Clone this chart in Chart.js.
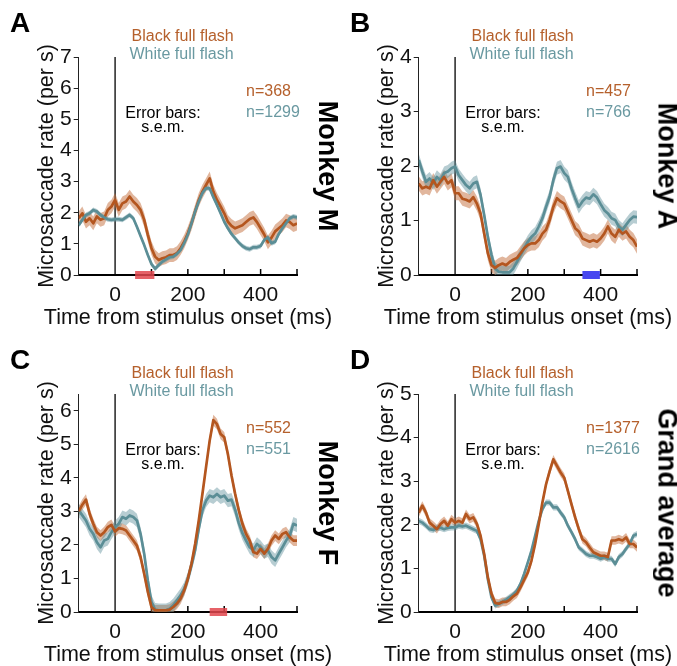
<!DOCTYPE html>
<html><head><meta charset="utf-8">
<script src="https://cdn.jsdelivr.net/npm/chart.js@4.4.1/dist/chart.umd.min.js"></script>
<style>
html,body{margin:0;padding:0;background:#fff;overflow:hidden}
#fig{position:relative;width:677px;height:666px;font-family:Arial,'Liberation Sans',sans-serif}
#fig canvas{position:absolute}
.t{position:absolute;white-space:nowrap;line-height:1}
</style></head><body><div id="fig"></div>
<script>
// ---- data ----
const times = [-100,-90,-80,-70,-60,-50,-40,-30,-20,-10,0,10,20,30,40,50,60,70,80,90,100,110,120,130,140,150,160,170,180,190,200,210,220,230,240,250,260,270,280,290,300,310,320,330,340,350,360,370,380,390,400,410,420,430,440,450,460,470,480,490,500];
const xTickLabels = [0,200,400];
const xTickMarks = [100,200,300,400,500];

const A_black = [1.82,1.98,1.71,1.82,1.66,1.88,1.77,1.82,2.09,2.20, 2.41,2.09,2.30,2.36,2.52,2.36,2.25,2.09,1.77,1.29, 0.86,0.59,0.48,0.54,0.57,0.64,0.64,0.70,0.86,1.07, 1.34,1.66,2.04,2.41,2.68,2.89,3.10,2.68,2.41,2.20, 1.98,1.71,1.58,1.50,1.55,1.60,1.70,1.80,1.85,1.70, 1.50,1.30,1.05,1.20,1.40,1.50,1.60,1.75,1.70,1.60, 1.65];
const A_white = [1.60,1.77,1.93,1.98,2.09,2.04,1.93,1.85,1.79,1.77, 1.79,1.79,1.77,1.85,1.93,1.82,1.55,1.25,0.96,0.64, 0.35,0.20,0.32,0.43,0.50,0.57,0.59,0.68,0.80,1.02, 1.29,1.66,2.04,2.36,2.63,2.79,2.78,2.50,2.25,1.98, 1.71,1.50,1.32,1.18,1.04,0.93,0.86,0.83,0.89,0.89, 0.93,1.13,1.21,1.02,1.07,1.32,1.50,1.66,1.82,1.88, 1.85];
const B_black = [1.68,1.59,1.62,1.59,1.74,1.62,1.71,1.80,1.68,1.74, 1.50,1.50,1.40,1.38,1.35,1.43,1.31,1.13,0.76,0.40, 0.18,0.13,0.18,0.21,0.18,0.24,0.28,0.31,0.40,0.49, 0.55,0.58,0.58,0.64,0.76,0.83,1.01,1.25,1.41,1.35, 1.31,1.16,1.01,0.86,0.80,0.67,0.64,0.61,0.64,0.61, 0.67,0.76,0.89,0.76,0.70,0.83,0.76,0.80,0.70,0.64, 0.52];
const B_white = [2.11,1.90,1.71,1.77,1.68,1.80,1.74,1.87,1.90,1.96, 1.99,1.83,1.74,1.65,1.59,1.68,1.71,1.47,1.10,0.70, 0.37,0.12,0.06,0.05,0.05,0.05,0.12,0.24,0.37,0.49, 0.61,0.70,0.76,0.89,1.04,1.25,1.44,1.74,1.96,1.99, 1.87,1.80,1.59,1.41,1.25,1.35,1.42,1.40,1.48,1.42, 1.30,1.19,1.13,1.04,1.01,0.89,0.83,0.92,1.01,1.07, 1.06];
const C_black = [3.00,3.20,3.35,2.93,2.63,2.38,2.28,2.38,2.53,2.60, 2.40,2.50,2.48,2.43,2.28,2.13,1.98,1.64,1.14,0.60, 0.15,0.05,0.05,0.05,0.05,0.07,0.15,0.25,0.40,0.64, 0.99,1.44,2.03,2.73,3.52,4.32,5.11,5.72,5.60,5.31, 5.21,4.71,4.07,3.52,3.03,2.63,2.33,2.13,1.79,1.74, 1.88,1.74,1.88,2.13,2.28,2.18,2.33,2.38,2.23,2.13, 2.13];
const C_white = [3.03,2.88,2.73,2.48,2.33,2.08,1.93,2.13,2.18,2.38, 2.53,2.63,2.83,2.78,2.88,2.83,2.73,2.33,1.74,0.94, 0.30,0.07,0.05,0.05,0.05,0.10,0.20,0.35,0.50,0.69, 0.99,1.39,1.84,2.48,3.03,3.32,3.47,3.42,3.52,3.42, 3.47,3.32,3.35,3.05,2.65,2.35,2.13,1.93,1.84,2.03, 1.93,1.79,1.84,1.64,1.54,1.74,1.93,2.13,2.28,2.63, 2.58];
const D_black = [2.28,2.44,2.28,2.05,1.98,1.90,2.02,2.09,1.98,2.13, 2.05,2.09,2.05,2.25,2.13,2.17,2.02,1.75,1.33,0.80, 0.42,0.21,0.19,0.23,0.23,0.28,0.36,0.42,0.57,0.74, 0.91,1.18,1.56,2.02,2.51,2.93,3.23,3.50,3.35,3.20, 3.08,2.78,2.47,2.17,1.90,1.67,1.60,1.48,1.37,1.33, 1.29,1.29,1.26,1.64,1.64,1.67,1.64,1.71,1.56,1.56, 1.48];
const D_white = [2.09,2.05,1.98,1.90,1.88,1.93,1.93,1.90,1.93,1.94, 1.94,1.98,1.96,1.98,1.94,1.90,1.86,1.67,1.29,0.76, 0.34,0.15,0.19,0.23,0.28,0.34,0.40,0.49,0.65,0.88, 1.14,1.41,1.75,2.09,2.36,2.51,2.51,2.40,2.40,2.28, 2.17,1.98,1.83,1.67,1.48,1.41,1.33,1.29,1.29,1.26, 1.22,1.26,1.22,1.22,1.10,1.26,1.33,1.45,1.56,1.75, 1.79];

// s.e.m. half-widths
const A_sem = [0.22, 0.08];
const B_sem = [0.13, 0.12];
const C_sem = [0.16, 0.20];
const D_sem = [0.10, 0.07];

// significance bars [start, end] in ms
const A_sig = [55, 108];
const B_sig = [350, 398];
const C_sig = [260, 308];
const D_sig = null;

const yMax = [7, 4, 6.5, 5];
const nBlack = ['n=368', 'n=457', 'n=552', 'n=1377'];
const nWhite = ['n=1299', 'n=766', 'n=551', 'n=2616'];
const panelLetters = ['A', 'B', 'C', 'D'];
const sideLabels = ['Monkey M', 'Monkey A', 'Monkey F', 'Grand average'];
const legendLabels = ['Black full flash', 'White full flash'];
const xTitle = 'Time from stimulus onset (ms)';
const yTitle = 'Microsaccade rate (per s)';

// ---- styles ----
const BROWN = '#b4561f', TEAL = '#5b8e96';
const BROWN_BAND = 'rgba(196,110,60,0.5)', TEAL_BAND = 'rgba(95,145,155,0.45)';
const BROWN_TXT = '#b5602c', TEAL_TXT = '#6a99a1';
const SIG_RED = 'rgba(226,70,78,0.85)', SIG_BLUE = '#4848f0';
const FONT = "Arial, 'Liberation Sans', sans-serif";
Chart.defaults.font.family = FONT;

const fig = document.getElementById('fig');
const W = 338, H = 333;
const origins = [[0,0],[340,0],[0,337],[340,337]];

function txt(str, x, base, size, color, bold, center) {
  const d = document.createElement('div');
  d.className = 't'; d.textContent = str;
  d.style.fontSize = size + 'px'; d.style.color = color;
  d.style.top = (base - 0.8465 * size) + 'px';
  d.style.left = x + 'px';
  if (center) d.style.transform = 'translateX(-50%)';
  if (bold) d.style.fontWeight = 'bold';
  fig.appendChild(d);
}
function rot(str, cx, cy, size) {
  const d = document.createElement('div');
  d.className = 't'; d.textContent = str;
  d.style.fontSize = size + 'px'; d.style.color = '#000'; d.style.fontWeight = 'bold';
  d.style.left = cx + 'px'; d.style.top = cy + 'px';
  d.style.transform = 'translate(-50%,-50%) rotate(90deg)';
  fig.appendChild(d);
}

const extras = {
  id: 'extras',
  beforeDatasetsDraw(chart) {
    const {ctx, chartArea: a, scales: {x}} = chart;
    ctx.save();
    ctx.strokeStyle = '#000';
    ctx.lineWidth = 1.3;
    const p0 = x.getPixelForValue(0);
    ctx.beginPath(); ctx.moveTo(p0, a.top); ctx.lineTo(p0, a.bottom); ctx.stroke();
    ctx.lineWidth = 1.5;
    for (const v of xTickMarks) {
      const px = x.getPixelForValue(v);
      ctx.beginPath(); ctx.moveTo(px, a.bottom); ctx.lineTo(px, a.bottom - 6); ctx.stroke();
    }
    ctx.restore();
  }
};

function pts(vals, off) { return times.map((t, i) => ({x: t, y: vals[i] + off})); }

function makePanel(i, black, white, sem, sig, whiteOnTop) {
  const [ox, oy] = origins[i];
  const cv = document.createElement('canvas');
  cv.width = W; cv.height = H;
  cv.style.left = ox + 'px'; cv.style.top = oy + 'px';
  cv.style.width = W + 'px'; cv.style.height = H + 'px';
  fig.appendChild(cv);

  const band = (vals, s, color, order) => ([
    {data: pts(vals, s), borderWidth: 0, pointRadius: 0, backgroundColor: color, fill: '+1', order: order},
    {data: pts(vals, -s), borderWidth: 0, pointRadius: 0, backgroundColor: color, fill: false, order: order}
  ]);
  const datasets = [];
  if (sig) datasets.push({data: [{x: sig[0], y: 0}, {x: sig[1], y: 0}], borderColor: i === 1 ? SIG_BLUE : SIG_RED,
    borderWidth: 8, borderCapStyle: 'butt', pointRadius: 0, fill: false, clip: false, order: 0});
  datasets.push({data: pts(black, 0), borderColor: BROWN, borderWidth: 2.7, pointRadius: 0, fill: false, order: whiteOnTop ? 2 : 1, borderJoinStyle: 'round'});
  datasets.push({data: pts(white, 0), borderColor: TEAL, borderWidth: 2.7, pointRadius: 0, fill: false, order: whiteOnTop ? 1 : 2, borderJoinStyle: 'round'});
  datasets.push(...band(black, sem[0], BROWN_BAND, 4));
  datasets.push(...band(white, sem[1], TEAL_BAND, 3));

  new Chart(cv, {
    type: 'line',
    data: {datasets},
    options: {
      responsive: false, animation: false, events: [],
      layout: {padding: {top: 57, left: 0, right: 41, bottom: 0}},
      plugins: {legend: {display: false}, tooltip: {enabled: false}},
      scales: {
        x: {
          type: 'linear', min: -100, max: 500,
          ticks: {stepSize: 100, autoSkip: false, maxRotation: 0, color: '#111', padding: 8,
            font: {size: 21}, callback: v => xTickLabels.includes(v) ? String(v) : ''},
          grid: {display: true, drawOnChartArea: false, drawTicks: false},
          border: {color: '#000', width: 2},
          title: {display: false},
          afterFit: s => { s.height = 58; }
        },
        y: {
          type: 'linear', min: 0, max: yMax[i],
          ticks: {stepSize: 1, includeBounds: false, color: '#111', padding: 2, font: {size: 21}},
          grid: {display: true, drawOnChartArea: false, drawTicks: true, tickLength: 5, color: '#222', tickWidth: 1},
          border: {color: '#222', width: 1},
          title: {display: true, text: yTitle, color: '#111', font: {size: 21.5}, padding: {top: 34.6, bottom: 0}},
          afterFit: s => { s.width = 78.7; }
        }
      }
    },
    plugins: [extras]
  });

  txt(xTitle, ox + 188, oy + 325, 21.5, '#111', false, true);
  txt(panelLetters[i], ox + 10, oy + 33, 28, '#000', true, false);
  txt(legendLabels[0], ox + 131.5, oy + 41.7, 16, BROWN_TXT, false, false);
  txt(legendLabels[1], ox + 129.5, oy + 59.2, 16, TEAL_TXT, false, false);
  txt(nBlack[i], ox + 246, oy + 96.5, 16, BROWN_TXT, false, false);
  txt(nWhite[i], ox + 246, oy + 118, 16, TEAL_TXT, false, false);
  txt('Error bars:', ox + 163, oy + 118.7, 16, '#000', false, true);
  txt('s.e.m.', ox + 163, oy + 132.7, 16, '#000', false, true);
  rot(sideLabels[i], ox + 327, oy + 166, 27);
}

makePanel(0, A_black, A_white, A_sem, A_sig, true);
makePanel(1, B_black, B_white, B_sem, B_sig, false);
makePanel(2, C_black, C_white, C_sem, C_sig, false);
makePanel(3, D_black, D_white, D_sem, D_sig, false);
</script></body></html>
